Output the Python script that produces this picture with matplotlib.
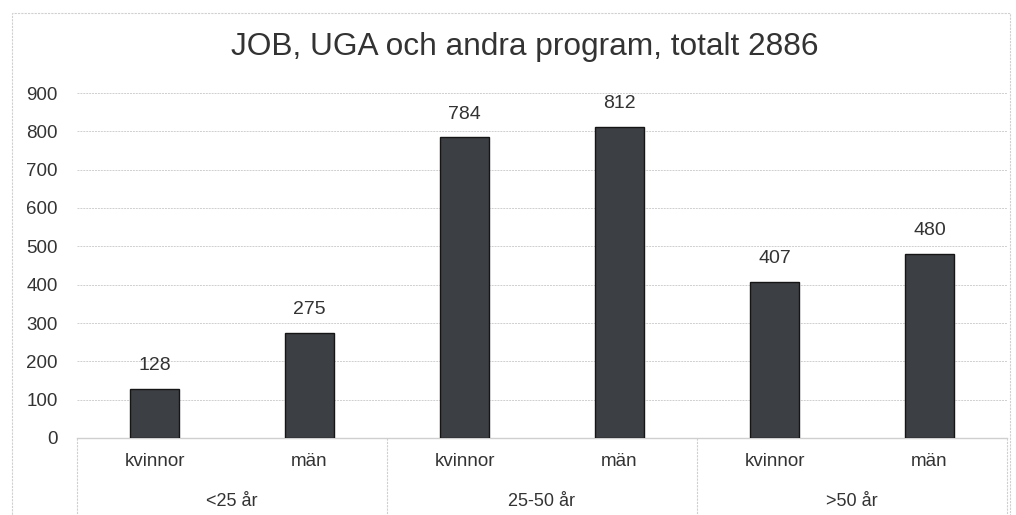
import matplotlib

matplotlib.use("Agg")
import matplotlib.pyplot as plt
from matplotlib.patches import Rectangle
from matplotlib.transforms import blended_transform_factory

# data
groups = ["<25 år", "25-50 år", ">50 år"]
sexes = ["kvinnor", "män"]
values = [128, 275, 784, 812, 407, 480]
title = "JOB, UGA och andra program, totalt 2886"

plt.rcParams["font.family"] = ["Liberation Sans", "DejaVu Sans"]
text_col = "#333333"
grid_col = "#cfcfcf"

fig = plt.figure(figsize=(10.16, 5.15), dpi=100)
ax = fig.add_axes([77 / 1016, 1 - 438 / 515, 930 / 1016, 345 / 515])

xs = list(range(len(values)))
bars = ax.bar(xs, values, width=0.315, color="#3c3f43", edgecolor="#151515", linewidth=1.0, zorder=3)
for b, v in zip(bars, values):
    ax.annotate(str(v), (b.get_x() + b.get_width() / 2, v), xytext=(0, 10.5),
                textcoords="offset points", ha="center", va="bottom",
                fontsize=14, color=text_col)

ax.set_xlim(-0.5, len(values) - 0.5)
ax.set_ylim(0, 900)
ax.set_yticks(range(0, 901, 100))
ax.yaxis.grid(True, color=grid_col, linewidth=0.7, linestyle=(0, (2, 1)))
ax.set_axisbelow(True)
ax.tick_params(axis="y", length=0, pad=14, labelsize=13.5, labelcolor=text_col)
ax.set_xticks([])
for s in ax.spines.values():
    s.set_visible(False)

# two-level category axis
tr = blended_transform_factory(ax.transData, ax.transAxes)
ax.plot([-0.5, len(values) - 0.5], [0, 0], transform=tr, color=grid_col, lw=1.0, clip_on=False)
for sep in [-0.5, 1.5, 3.5, 5.5]:
    ax.plot([sep, sep], [0, -0.24], transform=tr, color=grid_col, lw=0.8,
            linestyle=(0, (2, 1)), clip_on=False)
for i, x in enumerate(xs):
    ax.text(x, -23 / 345, sexes[i % 2], transform=tr, ha="center", va="center",
            fontsize=13.5, color=text_col)
for g, name in enumerate(groups):
    ax.text(2 * g + 0.5, -63 / 345, name, transform=tr, ha="center", va="center",
            fontsize=13, color=text_col)

fig.text(0.516, 1 - 47 / 515, title, ha="center", va="center", fontsize=22.8, color=text_col)

# outer chart frame
fig.patches.append(Rectangle((12 / 1016, -0.1), 998 / 1016, 1.1 - 13 / 515,
                             transform=fig.transFigure, fill=False,
                             edgecolor="#d0d0d0", lw=0.8, linestyle=(0, (2, 1))))

fig.savefig("out.png", dpi=100)
